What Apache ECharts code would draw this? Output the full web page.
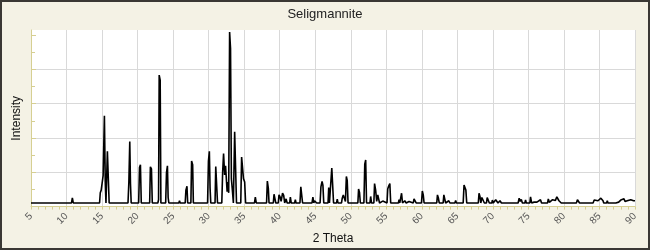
<!DOCTYPE html>
<html>
<head>
<meta charset="utf-8">
<script src="https://cdn.jsdelivr.net/npm/echarts@6/dist/echarts.min.js"></script>
<style>
  html, body { margin: 0; padding: 0; background: #F4F2E5; }
  #chart { width: 650px; height: 250px; }
</style>
</head>
<body>
<div id="chart"></div>
<script>
// Title and axis names
const chartTitle = 'Seligmannite';
const xName = '2 Theta';
const yName = 'Intensity';

// X-axis tick settings (2 Theta)
const xMin = 5, xMax = 90, xStep = 5;
// Y-axis tick values (no labels shown)
const yTicks = [0, 20, 40, 60, 80, 100];

// Diffraction pattern: 2 theta positions and intensities
const twoTheta = [
  5, 10.7, 10.82, 10.95,
  14.65, 14.75, 14.88, 15.15, 15.33, 15.45, 15.55, 15.65, 15.75, 15.9, 16.0,
  18.65, 18.77, 18.9, 19.0, 19.1,
  20.15, 20.27, 20.4, 20.52,
  21.7, 21.8, 21.95, 22.07,
  22.85, 22.95, 23.04, 23.18, 23.28,
  23.95, 24.07, 24.2, 24.3, 24.4,
  25.8, 25.9, 26.0,
  26.7, 26.8, 26.95, 27.05,
  27.5, 27.6, 27.75, 27.85,
  29.85, 29.97, 30.1, 30.2, 30.3,
  30.9, 31.0, 31.13, 31.25,
  31.85, 31.97, 32.1, 32.25, 32.38, 32.48, 32.6, 32.72, 32.82, 32.95, 33.08, 33.2, 33.35, 33.48,
  33.56, 33.66, 33.8, 33.92,
  34.52, 34.64, 34.78, 34.9, 35.07, 35.2,
  36.45, 36.57, 36.7,
  38.15, 38.26, 38.4, 38.5,
  39.1, 39.2, 39.33, 39.45,
  39.8, 39.9, 40.05, 40.2, 40.4, 40.56, 40.7, 40.9, 41.05,
  41.4, 41.5, 41.62,
  42.1, 42.2, 42.3,
  42.85, 42.97, 43.1, 43.22,
  44.55, 44.67, 44.8, 44.9, 45.1, 45.2,
  45.68, 45.8, 45.96, 46.08, 46.2,
  46.8, 46.9, 47.0,
  47.2, 47.33, 47.47, 47.58,
  48.0, 48.1, 48.2,
  48.7, 48.8, 48.95, 49.1, 49.25, 49.38, 49.5, 49.62,
  51.0, 51.1, 51.23, 51.35,
  51.85, 51.97, 52.1, 52.22,
  52.7, 52.8, 52.92,
  53.25, 53.35, 53.5, 53.65, 53.8, 53.93, 54.05,
  54.5, 54.6,
  55.1, 55.2, 55.35, 55.5, 55.62,
  56.7, 56.8, 56.9,
  57.05, 57.15, 57.28,
  57.6, 57.8, 58.2, 58.35,
  58.8, 58.9, 59.1, 59.2,
  59.95, 60.07, 60.2, 60.32,
  60.9, 61.0, 61.1,
  62.1, 62.2, 62.33, 62.45,
  63.0, 63.1, 63.23, 63.35,
  63.8, 63.95,
  64.65, 64.76, 64.87,
  65.82, 65.94, 66.07, 66.2, 66.32,
  67.95, 68.05, 68.18, 68.3, 68.45, 68.67, 68.8,
  69.1, 69.2, 69.4, 69.5,
  69.85, 69.93, 70.05,
  70.3, 70.4, 70.6, 70.72, 71.0, 71.2,
  73.55, 73.7, 73.85, 74.0, 74.15,
  74.5, 74.6, 74.7,
  75.2, 75.3, 75.45, 75.6, 75.8, 76.0, 76.2, 76.4, 76.7, 76.85,
  77.7, 77.8, 77.95, 78.2, 78.4, 78.55, 78.8, 79.0, 79.12, 79.3, 79.5, 79.62,
  80.5, 80.6, 80.7,
  81.75, 81.9, 82.05, 82.2,
  83.2, 83.3, 83.4,
  84.1, 84.26, 84.5, 84.8, 85.0, 85.2, 85.35, 85.5, 85.6,
  86.0, 86.1, 86.2,
  87.3, 87.5, 87.7, 88.0, 88.2, 88.45, 88.6, 88.9, 89.1, 89.4, 89.6, 89.8, 90
];
const intensity = [
  2.1, 2.1, 5.1, 2.1,
  2.1, 8.1, 9.6, 18, 53, 14.3, 2.1, 2.1, 32.3, 33.2, 2.1,
  2.1, 14, 38, 13.2, 2.1,
  2.1, 22.8, 24.4, 2.1,
  2.1, 23.2, 22, 2.1,
  2.1, 4, 76.7, 73.7, 2.1,
  2.1, 20, 23.8, 5.3, 2.1,
  2.1, 3.4, 2.1,
  2.1, 9.6, 11.9, 2.1,
  2.1, 26.6, 24.4, 2.1,
  2.1, 26.6, 32.3, 10.8, 2.1,
  2.1, 23.4, 22.8, 2.1,
  2.1, 20, 31, 18.5, 23.8, 24.4, 8.7, 14.3, 8, 101.8, 92.2, 16.3, 9, 2.1,
  2.1, 43.6, 44.2, 2.1,
  2.1, 28.9, 29.9, 16.3, 14.3, 2.1,
  2.1, 5.5, 2.1,
  2.1, 14.9, 10.6, 2.1,
  2.1, 7.2, 7.2, 2.1,
  2.1, 6.8, 5.6, 3, 7.8, 6.5, 2.1, 4.5, 2.1,
  2.1, 5.5, 2.1,
  2.1, 4, 2.1,
  2.1, 11.5, 12.1, 2.1,
  2.1, 5.5, 2.1, 3.4, 3.2, 2.1,
  2.1, 11.5, 14.7, 12.5, 2.1,
  2.1, 11.1, 2.1,
  2.1, 22.5, 21.9, 2.1,
  2.1, 4.4, 2.1,
  2.1, 4.9, 6.8, 5.9, 3, 17.6, 15.3, 2.1,
  2.1, 10.2, 8.3, 2.1,
  2.1, 24.7, 27.2, 2.1,
  2.1, 5.9, 2.1,
  2.1, 13.4, 9.6, 3, 6.8, 6.2, 2.1,
  3.2, 2.1,
  2.1, 10.2, 12.1, 13.4, 2.1,
  2.1, 4, 2.1,
  2.1, 7.8, 2.1,
  3.4, 2.1, 3, 2.1,
  2.1, 4.5, 4.5, 2.1,
  2.1, 9.1, 6.8, 2.1,
  2.1, 3, 2.1,
  2.1, 6.8, 5, 2.1,
  2.1, 6.8, 5.9, 2.1,
  3.4, 2.1,
  2.1, 3.6, 2.1,
  2.1, 12.5, 11.5, 9.6, 2.1,
  2.1, 7.8, 5.9, 2.1, 5.3, 4.5, 2.1,
  2.1, 5.3, 5.3, 2.1,
  2.1, 3.8, 2.1,
  2.1, 4, 4.9, 2.1, 3.4, 2.1,
  2.1, 4.9, 3, 4.2, 2.1,
  2.1, 3.8, 2.1,
  2.1, 5.7, 2.1, 3, 2.6, 3.6, 2.6, 3, 4, 2.1,
  2.1, 4.5, 2.5, 3, 4, 3, 3.6, 5.7, 5, 3.4, 3.4, 2.1,
  2.1, 2.8, 2.1,
  2.1, 4, 3, 2.1,
  2.1, 3.2, 2.1,
  2.1, 3.8, 3.2, 3.4, 3.8, 4.9, 3.8, 3.4, 2.1,
  2.1, 3.4, 2.1,
  2.1, 3, 2.6, 3.8, 2.8, 4.5, 3, 3.4, 2.8, 4, 3, 3.4, 3.4
];

const seriesData = twoTheta.map((t, i) => [t, intensity[i]]);

const axisYellow = '#d6cf92';
const chart = echarts.init(document.getElementById('chart'), null, { renderer: 'canvas' });
chart.setOption({
  animation: false,
  backgroundColor: '#F4F2E5',
  title: {
    text: chartTitle,
    left: 'center',
    top: 3,
    textStyle: { fontFamily: 'Liberation Sans, Arial, sans-serif', fontSize: 13, fontWeight: 'normal', color: '#222' }
  },
  grid: {
    left: 31, right: 15, top: 30, bottom: 38,
    show: true, backgroundColor: '#ffffff', borderWidth: 0
  },
  xAxis: {
    type: 'value',
    min: xMin, max: xMax, interval: xStep,
    name: xName,
    nameLocation: 'middle',
    nameGap: 24,
    nameTextStyle: { fontFamily: 'Liberation Sans, Arial, sans-serif', fontSize: 12, color: '#111' },
    axisLine: { show: true, onZero: false, lineStyle: { color: axisYellow, width: 1 } },
    axisTick: { show: true, length: 3, lineStyle: { color: axisYellow } },
    minorTick: { show: true, splitNumber: 5, length: 3, lineStyle: { color: axisYellow } },
    axisLabel: { rotate: 45, fontSize: 10, color: '#555', margin: 8, fontFamily: 'Liberation Sans, Arial, sans-serif' },
    splitLine: { show: true, lineStyle: { color: '#d9d9d9', width: 1 } }
  },
  yAxis: {
    type: 'value',
    min: 0, max: 103, interval: 20,
    name: yName,
    nameLocation: 'middle',
    nameGap: 8,
    nameTextStyle: { fontFamily: 'Liberation Sans, Arial, sans-serif', fontSize: 12, color: '#111' },
    axisLine: { show: true, lineStyle: { color: axisYellow, width: 1 } },
    axisTick: { show: true, inside: true, length: 5, customValues: yTicks, lineStyle: { color: axisYellow } },
    minorTick: { show: true, splitNumber: 2, length: 4, lineStyle: { color: axisYellow } },
    axisLabel: { show: false },
    splitLine: { show: true, showMinLine: false, showMaxLine: false, lineStyle: { color: '#d9d9d9', width: 1 } }
  },
  graphic: [{
    type: 'rect',
    z: 100,
    silent: true,
    shape: { x: 1, y: 1, width: 648, height: 248 },
    style: { fill: 'none', stroke: '#3a3834', lineWidth: 2 }
  }],
  series: [{
    type: 'line',
    data: seriesData,
    showSymbol: false,
    symbol: 'none',
    lineStyle: { color: '#000', width: 1.6 },
    clip: true
  }]
});
</script>
</body>
</html>
